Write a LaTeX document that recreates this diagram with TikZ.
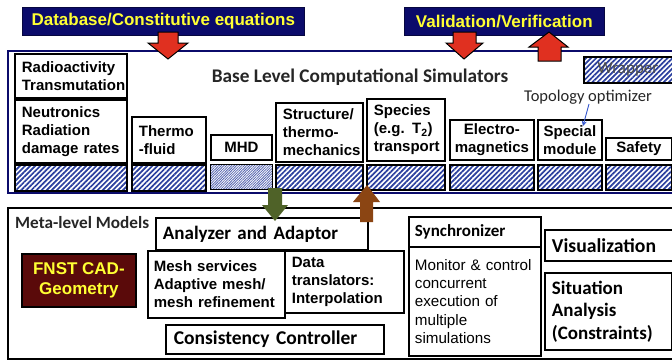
\documentclass[tikz,border=0pt]{standalone}
\usepackage{fontspec}
\setmainfont{Liberation Sans}
\newfontfamily\calfont{Carlito}
\usetikzlibrary{patterns.meta,arrows.meta}
\definecolor{navyb}{HTML}{0B0B6B}
\definecolor{ylw}{HTML}{FFFF33}
\definecolor{hatchc}{HTML}{2B3F9E}
\definecolor{cadred}{HTML}{5A0A0A}
\definecolor{arrred}{HTML}{E03020}
\definecolor{grn}{HTML}{4F6228}
\definecolor{brn}{HTML}{8B4513}
\definecolor{topo}{HTML}{3355CC}
\tikzset{
  box/.style={draw=black, line width=1.8pt, fill=white, inner ysep=0pt, inner xsep=7pt, anchor=north west,
     font=\fontsize{15}{18}\selectfont\bfseries},
  cbox/.style={box, font=\calfont\fontsize{19}{22.5}\selectfont\bfseries},
  hatchbox/.style={draw=black, line width=1.8pt, inner sep=0pt, anchor=north west,
     pattern={Lines[angle=45,distance=3.6pt,line width=1.7pt]}, pattern color=hatchc},
  finehatch/.style={draw=black, line width=1.8pt, inner sep=0pt, anchor=north west,
     pattern={Lines[angle=45,distance=1.8pt,line width=0.8pt]}, pattern color=hatchc!80},
  banner/.style={fill=navyb, draw=navyb!60!black, line width=0.6pt, anchor=north west, inner sep=0pt,
     text=ylw, font=\fontsize{17}{20}\selectfont\bfseries},
  redarrow/.style={fill=arrred, draw=black, line width=1pt, line join=miter},
}
\begin{document}
\begin{tikzpicture}[x=1pt,y=-1pt]
\useasboundingbox (0,0) rectangle (672,359);
\clip (0,0) rectangle (672,359);
\fill[white] (0,0) rectangle (672,359);

% banners
\node[banner, minimum width=282pt, minimum height=28pt] (db) at (22,7) {Database/Constitutive equations};
\node[banner, minimum width=200pt, minimum height=28pt] (vv) at (404,7) {Validation/Verification};

% base level frame
\node[draw=navyb, line width=2pt, minimum width=690pt, minimum height=142pt, anchor=north west, inner sep=0pt] (base) at (7,50) {};
\node[font=\calfont\fontsize{19.3}{22}\selectfont\bfseries, text=black!85] (basetxt) at (360,77) {Base Level Computational Simulators};

% red arrows
\draw[redarrow] (158,32) -- (178,32) -- (178,43) -- (188,43) -- (168,59) -- (148,43) -- (158,43) -- cycle;
\draw[redarrow] (453,32) -- (476,32) -- (476,43) -- (483,43) -- (464,59) -- (446,43) -- (453,43) -- cycle;
\draw[redarrow] (538,61) -- (561,61) -- (561,47) -- (568,47) -- (549,32) -- (529,47) -- (538,47) -- cycle;

% wrapper
\node[hatchbox, minimum width=95pt, minimum height=26pt] (wrap) at (583,56) {};
\node[text=black!70, font=\calfont\fontsize{17}{18}\selectfont, inner sep=0pt] (wraptxt) at (628,69) {Wrapper};

% simulator boxes
\node[box, minimum width=112pt, minimum height=44pt, text width=98pt, align=left] (radio) at (14,53) {Radioactivity\\Transmutation};
\node[box, minimum width=112pt, minimum height=63pt, text width=98pt, align=left] (neut) at (14,99) {Neutronics\\Radiation\\damage rates};
\node[box, minimum width=74pt, minimum height=46pt, text width=60pt, align=left] (thermo) at (131,116) {Thermo\\-fluid};
\node[box, minimum width=61pt, minimum height=25pt, inner xsep=0pt, align=center] (mhd) at (210,134) {MHD};
\node[box, minimum width=87pt, minimum height=59pt, text width=73pt, align=left] (struct) at (275,102) {Structure/\\thermo-\\mechanics};
\node[box, minimum width=78pt, minimum height=62pt, text width=64pt, align=left] (species) at (366,98) {Species\\(e.g. T\textsubscript{2})\\transport};
\node[box, minimum width=84pt, minimum height=40pt, inner xsep=0pt, align=center] (em) at (449,119) {Electro-\\magnetics};
\node[box, minimum width=64pt, minimum height=40pt, inner xsep=0pt, align=center] (special) at (537,119) {Special\\module};
\node[box, minimum width=66pt, minimum height=22pt, inner xsep=0pt, align=center] (safety) at (605,137) {Safety};

% hatched row
\node[hatchbox, minimum width=112pt, minimum height=26pt] (h1) at (14,164) {};
\node[hatchbox, minimum width=74pt, minimum height=26pt] (h2) at (131,164) {};
\node[finehatch, minimum width=62pt, minimum height=25pt] (h3) at (210,164) {};
\node[hatchbox, minimum width=87pt, minimum height=25pt] (h4) at (275,164) {};
\node[hatchbox, minimum width=78pt, minimum height=25pt] (h5) at (366,164) {};
\node[hatchbox, minimum width=84pt, minimum height=25pt] (h6) at (449,164) {};
\node[hatchbox, minimum width=64pt, minimum height=25pt] (h7) at (537,164) {};
\node[hatchbox, minimum width=66pt, minimum height=25pt] (h8) at (605,164) {};

% topology optimizer
\node[font=\calfont\fontsize{16.5}{18}\selectfont, text=black!85, inner sep=0pt] (topo) at (588,97) {Topology optimizer};
\draw[topo, line width=0.9pt, -{Stealth[length=5pt,width=5pt]}] (589,104) -- (583,126);

% meta level frame
\node[draw=black, line width=2pt, minimum width=690pt, minimum height=151pt, anchor=north west, inner sep=0pt] (meta) at (7,207) {};
\node[anchor=west, inner sep=0pt, font=\calfont\fontsize{17.2}{18}\selectfont\bfseries, text=black!85] (metatxt) at (15,223) {Meta-level Models};

\node[cbox, minimum width=212pt, minimum height=32pt, text width=198pt, align=left] (anal) at (155,217) {Analyzer and Adaptor};
\node[box, minimum width=137pt, minimum height=67pt, inner xsep=6pt, text width=125pt, align=left] (mesh) at (147,250) {Mesh services\\Adaptive mesh/\\mesh refinement};
\node[box, minimum width=119pt, minimum height=62pt, text width=105pt, align=left] (data) at (284,250) {Data\\translators:\\Interpolation};
\node[cbox, minimum width=218pt, minimum height=29pt, inner xsep=8pt, text width=202pt, align=left, font=\calfont\fontsize{19.5}{22}\selectfont\bfseries] (cons) at (165,324) {Consistency Controller};

\node[draw=black, line width=1.8pt, fill=cadred, anchor=north west, minimum width=114pt, minimum height=53pt, inner sep=0pt,
      text=ylw, font=\fontsize{17}{20.5}\selectfont\bfseries, align=center] (cad) at (21,253) {FNST CAD-\\Geometry};

\node[box, minimum width=132pt, minimum height=30pt, inner xsep=6pt, text width=120pt, align=left,
      font=\calfont\fontsize{17}{18}\selectfont\bfseries] (sync) at (408,216) {Synchronizer};
\node[box, minimum width=132pt, minimum height=109pt, inner xsep=6pt, text width=120pt, align=left,
      font=\fontsize{15.2}{18.3}\selectfont] (mon) at (408,246) {Monitor \& control\\concurrent\\execution of\\multiple\\simulations\\[6pt]};
\node[cbox, minimum width=140pt, minimum height=31pt, text width=126pt, align=left, font=\calfont\fontsize{19.7}{22}\selectfont\bfseries] (vis) at (544,229) {Visualization};
\node[cbox, minimum width=127pt, minimum height=77pt, text width=113pt, align=left] (sit) at (544,272) {Situation\\Analysis\\(Constraints)};

% green & brown arrows
\fill[grn] (268,188) -- (282,188) -- (282,205) -- (288,205) -- (275,221) -- (262,205) -- (268,205) -- cycle;
\fill[brn] (360,222) -- (373,222) -- (373,202) -- (380,202) -- (367,185) -- (353,202) -- (360,202) -- cycle;
\end{tikzpicture}
\end{document}
